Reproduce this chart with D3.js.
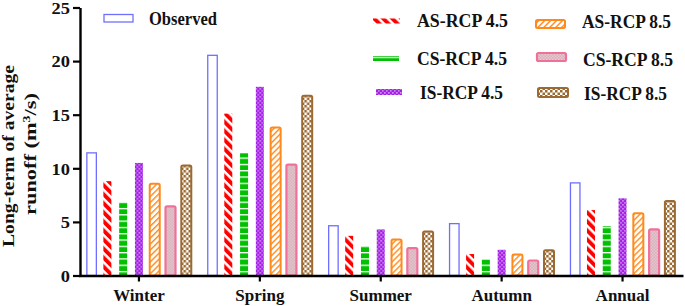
<!DOCTYPE html>
<html>
<head>
<meta charset="utf-8">
<script src="https://cdn.jsdelivr.net/npm/d3@7"></script>
<style>
  html, body { margin: 0; padding: 0; background: #fff; }
  svg { display: block; }
  text { font-family: "Liberation Serif", "Times New Roman", serif; font-weight: bold; fill: #111; }
</style>
</head>
<body>
<svg id="chart" width="685" height="306"></svg>
<script>
const categories = ["Winter", "Spring", "Summer", "Autumn", "Annual"];
const seriesNames = ["Observed", "AS-RCP 4.5", "CS-RCP 4.5", "IS-RCP 4.5", "AS-RCP 8.5", "CS-RCP 8.5", "IS-RCP 8.5"];
const observed = [11.5, 20.6, 4.7, 4.9, 8.7];
const as45 = [8.8, 15.1, 3.7, 2.0, 6.1];
const cs45 = [6.8, 11.4, 2.75, 1.5, 4.6];
const is45 = [10.5, 17.6, 4.3, 2.4, 7.2];
const as85 = [8.65, 13.9, 3.45, 2.05, 5.9];
const cs85 = [6.55, 10.45, 2.65, 1.5, 4.4];
const is85 = [10.35, 16.85, 4.2, 2.45, 7.05];
const yTicks = [0, 5, 10, 15, 20, 25];

const seriesValues = [observed, as45, cs45, is45, as85, cs85, is85];

const svg = d3.select("#chart");
const defs = svg.append("defs");

function pat(id, w, h, rot) {
  const p = defs.append("pattern").attr("id", id)
    .attr("patternUnits", "userSpaceOnUse").attr("width", w).attr("height", h);
  if (rot) p.attr("patternTransform", `rotate(${rot})`);
  return p;
}
{ const p = pat("pRed", 6.4, 6.4, -45);
  p.append("rect").attr("width", 6.4).attr("height", 6.4).attr("fill", "#fff");
  p.append("rect").attr("width", 3.9).attr("height", 6.4).attr("fill", "#ff0000"); }
{ const p = pat("pGreen", 8, 6.3, 0);
  p.append("rect").attr("width", 8).attr("height", 6.3).attr("fill", "#fff");
  p.append("rect").attr("y", 1.3).attr("width", 8).attr("height", 5).attr("fill", "#00c000"); }
{ const p = pat("pPurple", 4, 4, 0);
  p.append("rect").attr("width", 4).attr("height", 4).attr("fill", "#a51fe6");
  p.append("rect").attr("x", 0.3).attr("y", 0.3).attr("width", 1.2).attr("height", 1.2).attr("fill", "#fff");
  p.append("rect").attr("x", 2.3).attr("y", 2.3).attr("width", 1.2).attr("height", 1.2).attr("fill", "#f0d8ff"); }
{ const p = pat("pOrange", 4.2, 4.2, 45);
  p.append("rect").attr("width", 4.2).attr("height", 4.2).attr("fill", "#fff");
  p.append("rect").attr("width", 1.4).attr("height", 4.2).attr("fill", "#ff8a1c"); }
{ const p = pat("pPink", 3, 3, 0);
  p.append("rect").attr("width", 3).attr("height", 3).attr("fill", "#f3c3d0");
  p.append("rect").attr("width", 1.5).attr("height", 1.5).attr("fill", "#c7b5b9");
  p.append("rect").attr("x", 1.5).attr("y", 1.5).attr("width", 1.5).attr("height", 1.5).attr("fill", "#c7b5b9"); }
{ const p = pat("pBrown", 5, 5, 0);
  p.append("rect").attr("width", 5).attr("height", 5).attr("fill", "#fff");
  p.append("rect").attr("width", 2.5).attr("height", 2.5).attr("fill", "#9b6a33");
  p.append("rect").attr("x", 2.5).attr("y", 2.5).attr("width", 2.5).attr("height", 2.5).attr("fill", "#9b6a33"); }

const styles = [
  { fill: "#fff", stroke: "#6f6fff", sw: 1.3, w: 9.5, rx: 0 },
  { fill: "url(#pRed)", stroke: "none", sw: 0, w: 8, rx: 0 },
  { fill: "url(#pGreen)", stroke: "none", sw: 0, w: 8, rx: 0 },
  { fill: "url(#pPurple)", stroke: "none", sw: 0, w: 8, rx: 0 },
  { fill: "url(#pOrange)", stroke: "#ff8a1c", sw: 2, w: 10, rx: 1.5 },
  { fill: "url(#pPink)", stroke: "#f0709a", sw: 2.2, w: 10, rx: 1.5 },
  { fill: "url(#pBrown)", stroke: "#9b6a33", sw: 2, w: 10, rx: 1.5 }
];

const y = d3.scaleLinear().domain([0, 25]).range([275.5, 7.5]);
const x0 = d3.scaleBand().domain(categories).range([78.5, 683]).padding(0);
const x1 = d3.scaleBand().domain(seriesNames).range([0, x0.bandwidth()])
  .paddingInner(0).paddingOuter(0.33);

const groups = svg.append("g").selectAll("g").data(categories).join("g")
  .attr("transform", d => `translate(${x0(d)},0)`);
groups.selectAll("rect")
  .data((c, ci) => seriesNames.map((s, si) => ({ s, si, v: seriesValues[si][ci] })))
  .join("rect")
  .attr("x", d => x1(d.s) + x1.bandwidth() / 2 - styles[d.si].w / 2)
  .attr("width", d => styles[d.si].w)
  .attr("y", d => y(d.v) + styles[d.si].sw / 2)
  .attr("height", d => y(0) - y(d.v) - styles[d.si].sw / 2)
  .attr("rx", d => styles[d.si].rx)
  .attr("fill", d => styles[d.si].fill)
  .attr("stroke", d => styles[d.si].stroke)
  .attr("stroke-width", d => styles[d.si].sw);

const yAxis = svg.append("g").attr("transform", "translate(80,0)")
  .call(d3.axisLeft(y).tickValues(yTicks).tickSize(7).tickSizeOuter(0).tickPadding(3));
yAxis.select(".domain").attr("stroke", "#000").attr("stroke-width", 2.4);
yAxis.selectAll(".tick line").attr("stroke", "#000").attr("stroke-width", 2.2);
yAxis.selectAll(".tick text").attr("font-size", 16).attr("fill", "#111")
  .attr("font-family", null).attr("dy", "0.36em")
  .attr("textLength", d => String(d).length * 9.2).attr("lengthAdjust", "spacingAndGlyphs");

const xAxis = svg.append("g").attr("transform", `translate(0,${y(0)})`)
  .call(d3.axisBottom(x0).tickSize(6).tickSizeOuter(0).tickPadding(7));
xAxis.select(".domain").attr("stroke", "#000").attr("stroke-width", 2.4);
xAxis.selectAll(".tick line").attr("stroke", "#000").attr("stroke-width", 2.2);
xAxis.selectAll(".tick text").attr("font-size", 17).attr("fill", "#111").attr("font-family", null);

const yl = svg.append("g");
yl.append("text").attr("transform", "translate(14,156) rotate(-90)")
  .attr("text-anchor", "middle").attr("font-size", 16)
  .attr("textLength", 182).attr("lengthAdjust", "spacingAndGlyphs")
  .text("Long-term of average");
const t2 = yl.append("text").attr("transform", "translate(36,154) rotate(-90)")
  .attr("text-anchor", "middle").attr("font-size", 16)
  .attr("textLength", 122).attr("lengthAdjust", "spacingAndGlyphs");
t2.append("tspan").text("runoff (m");
t2.append("tspan").attr("font-size", 10).attr("dy", -6).text("3");
t2.append("tspan").attr("dy", 6).text("/s)");

const legendItems = [
  { si: 0, x: 104, y: 14.5, w: 29, h: 7.5, tx: 149, ty: 25, tl: 68 },
  { si: 1, x: 373, y: 18.5, w: 27, h: 5, tx: 417, ty: 27, tl: 91 },
  { si: 2, x: 373, y: 56, w: 26, h: 5, tx: 417, ty: 65, tl: 90 },
  { si: 3, x: 376, y: 89, w: 26, h: 6, tx: 420, ty: 99, tl: 83 },
  { si: 4, x: 536, y: 20, w: 29, h: 8, tx: 582, ty: 28, tl: 89 },
  { si: 5, x: 537, y: 53, w: 29, h: 8, tx: 583, ty: 66, tl: 90 },
  { si: 6, x: 538, y: 88, w: 30, h: 9, tx: 584, ty: 100, tl: 83 }
];
const lg = svg.append("g");
legendItems.forEach(it => {
  const st = styles[it.si];
  lg.append("rect").attr("x", it.x).attr("y", it.y).attr("width", it.w).attr("height", it.h)
    .attr("rx", st.rx).attr("fill", st.fill).attr("stroke", st.stroke).attr("stroke-width", st.sw);
  lg.append("text").attr("x", it.tx).attr("y", it.ty).attr("font-size", 18)
    .attr("textLength", it.tl).attr("lengthAdjust", "spacingAndGlyphs")
    .text(seriesNames[it.si]);
});
</script>
</body>
</html>
